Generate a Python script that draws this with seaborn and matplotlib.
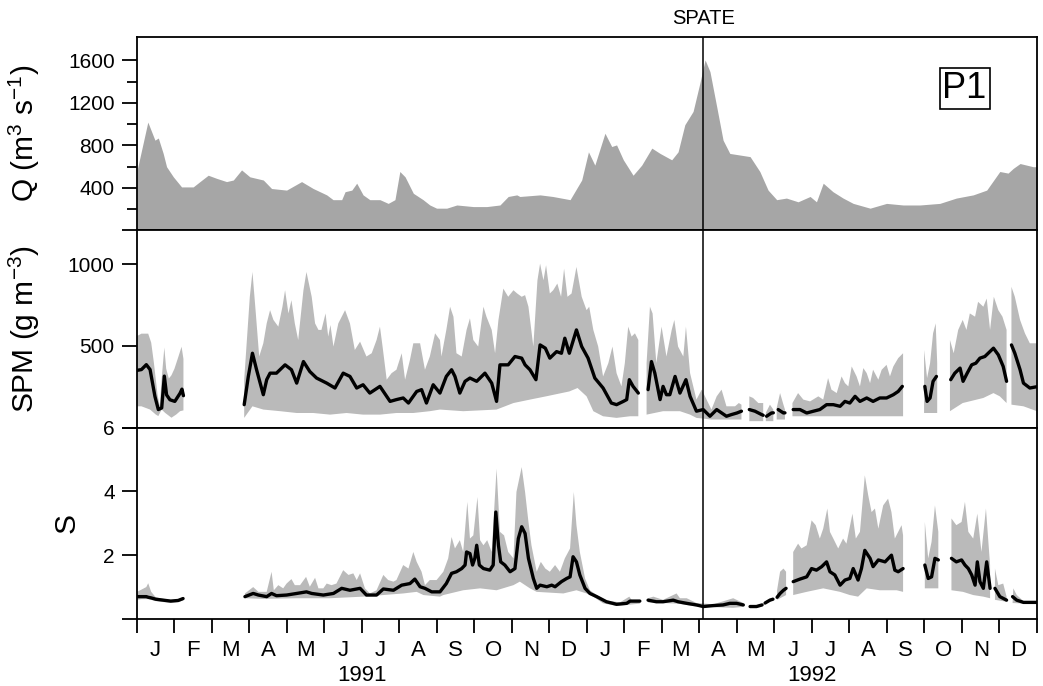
import pandas as pd
import matplotlib
matplotlib.use("Agg")
import matplotlib.pyplot as plt
import matplotlib.transforms as mtrans
import seaborn as sns

# x position in months (0 = 1 Jan 1991, 24 = 31 Dec 1992); None = gap in the record
# Discharge Q (m3 s-1)
q_pts = [(0.0, 560), (0.29, 1020), (0.48, 850), (0.57, 870), (0.70, 725), (0.79, 600), (0.97, 505),
         (1.19, 410), (1.50, 410), (1.68, 460), (1.90, 520), (2.13, 490), (2.39, 460), (2.57, 475),
         (2.79, 570), (3.01, 505), (3.37, 475), (3.59, 395), (3.99, 380), (4.39, 460), (4.70, 395),
         (5.06, 335), (5.23, 290), (5.46, 290), (5.55, 365), (5.73, 380), (5.86, 445), (6.03, 335),
         (6.21, 290), (6.48, 290), (6.70, 255), (6.88, 290), (7.01, 555), (7.15, 505), (7.37, 350),
         (7.63, 290), (7.81, 240), (7.99, 210), (8.26, 210), (8.53, 240), (8.97, 225), (9.33, 225),
         (9.68, 240), (9.90, 320), (10.13, 335), (10.21, 320), (10.75, 335), (11.09, 320), (11.55, 290),
         (11.86, 475), (12.04, 740), (12.21, 615), (12.48, 915), (12.66, 790), (12.79, 805), (12.97, 665),
         (13.23, 520), (13.46, 615), (13.73, 775), (13.95, 725), (14.26, 665), (14.43, 740), (14.61, 995),
         (14.83, 1120), (15.01, 1385), (15.15, 1605), (15.28, 1495), (15.46, 1165), (15.63, 850),
         (15.81, 725), (16.08, 710), (16.35, 695), (16.61, 555), (16.83, 380), (17.06, 290), (17.32, 305),
         (17.63, 270), (17.95, 320), (18.12, 270), (18.30, 445), (18.56, 365), (18.83, 305), (19.10, 255),
         (19.55, 210), (19.99, 255), (20.43, 240), (20.88, 240), (21.41, 255), (21.85, 305), (22.30, 335),
         (22.66, 380), (23.01, 555), (23.23, 540), (23.37, 585), (23.55, 630), (23.90, 600), (24.0, 600)]

# SPM (g m-3): upper and lower envelope and running median
spm_hi = [(0.00, 560), (0.12, 575), (0.30, 575), (0.38, 520), (0.45, 400), (0.55, 200), (0.61, 130),
          (0.66, 300), (0.73, 490), (0.78, 360), (0.85, 300), (0.92, 320), (1.00, 360), (1.10, 430),
          (1.19, 495), (1.24, 420),
          None,
          (2.86, 293), (3.01, 801), (3.08, 953), (3.17, 699), (3.26, 435), (3.37, 516), (3.46, 638),
          (3.55, 719), (3.64, 659), (3.77, 618), (3.88, 740), (3.95, 841), (4.04, 699), (4.12, 780),
          (4.21, 638), (4.30, 536), (4.44, 841), (4.52, 953), (4.66, 801), (4.75, 638), (4.84, 598),
          (4.92, 598), (5.03, 699), (5.10, 557), (5.16, 628), (5.24, 496), (5.37, 638), (5.55, 719),
          (5.68, 638), (5.81, 475), (5.95, 526), (6.12, 435), (6.26, 455), (6.39, 536), (6.48, 618),
          (6.55, 496), (6.66, 293), (6.79, 333), (6.92, 354), (7.06, 455), (7.15, 293), (7.28, 414),
          (7.37, 516), (7.55, 516), (7.68, 354), (7.81, 435), (7.95, 577), (8.08, 536), (8.12, 435),
          (8.25, 598), (8.35, 740), (8.44, 679), (8.52, 455), (8.66, 435), (8.79, 598), (8.88, 669),
          (8.97, 536), (9.10, 496), (9.24, 740), (9.32, 679), (9.46, 598), (9.55, 455), (9.64, 659),
          (9.77, 851), (9.90, 801), (10.04, 841), (10.14, 821), (10.26, 801), (10.35, 811), (10.44, 740),
          (10.57, 496), (10.68, 902), (10.75, 1004), (10.84, 902), (10.91, 994), (11.01, 821),
          (11.10, 841), (11.21, 882), (11.31, 801), (11.39, 973), (11.48, 801), (11.59, 821),
          (11.72, 984), (11.86, 801), (11.99, 719), (12.06, 740), (12.17, 598), (12.30, 496),
          (12.43, 313), (12.57, 394), (12.68, 496), (12.79, 333), (12.92, 252), (13.01, 394),
          (13.10, 618), (13.19, 557), (13.28, 577), (13.37, 536),
          None,
          (13.59, 394), (13.68, 740), (13.75, 699), (13.85, 394), (13.99, 618), (14.12, 435), (14.26, 598),
          (14.33, 659), (14.43, 496), (14.57, 435), (14.64, 618), (14.75, 333), (14.92, 171), (15.06, 232),
          (15.19, 171), (15.32, 110), (15.46, 191), (15.59, 232), (15.72, 130), (15.95, 130), (16.05, 150),
          (16.12, 140),
          None,
          (16.33, 191), (16.43, 181), (16.57, 150), (16.70, 150),
          None,
          (16.77, 90), (16.88, 140), (16.97, 110),
          None,
          (17.06, 120), (17.15, 211), (17.24, 140), (17.28, 110),
          None,
          (17.48, 150), (17.63, 211), (17.77, 171), (17.95, 160), (18.17, 191), (18.30, 171), (18.43, 303),
          (18.52, 232), (18.66, 211), (18.79, 313), (18.88, 272), (18.97, 252), (19.06, 374), (19.19, 313),
          (19.28, 252), (19.37, 364), (19.46, 333), (19.55, 272), (19.63, 354), (19.77, 293), (19.86, 354),
          (19.99, 384), (20.08, 313), (20.17, 374), (20.30, 425), (20.43, 455),
          None,
          (20.99, 475), (21.07, 303), (21.15, 394), (21.23, 577), (21.30, 638), (21.34, 394),
          None,
          (21.68, 536), (21.78, 455), (21.90, 598), (22.02, 659), (22.12, 598), (22.21, 699), (22.35, 679),
          (22.43, 770), (22.57, 740), (22.66, 790), (22.75, 598), (22.85, 801), (22.97, 719), (23.08, 679),
          (23.19, 598),
          None,
          (23.32, 862), (23.41, 801), (23.55, 659), (23.68, 577), (23.81, 516), (24.0, 516)]

spm_lo = [(0.00, 130), (0.12, 130), (0.35, 110), (0.50, 80), (0.57, 70), (0.66, 110), (0.75, 90),
          (0.92, 60), (1.05, 80), (1.15, 100), (1.24, 105),
          None,
          (2.86, 59), (3.08, 130), (3.37, 110), (3.82, 100), (4.26, 89), (4.70, 89), (5.15, 79), (5.59, 89),
          (6.03, 79), (6.48, 79), (6.92, 89), (7.37, 89), (7.81, 100), (8.08, 110), (8.70, 100), (9.59, 110),
          (10.04, 150), (10.48, 171), (10.91, 191), (11.53, 221), (11.75, 242), (11.99, 191), (12.17, 100),
          (12.43, 69), (12.79, 59), (13.15, 69), (13.37, 69),
          None,
          (13.59, 79), (14.03, 100), (14.48, 100), (14.75, 79), (14.92, 59), (15.32, 49), (15.81, 49),
          (16.12, 49),
          None,
          (16.33, 39), (16.70, 39),
          None,
          (16.77, 39), (16.97, 39),
          None,
          (17.06, 49), (17.28, 49),
          None,
          (17.48, 69), (18.50, 69), (19.50, 69), (20.43, 69),
          None,
          (20.99, 89), (21.34, 89),
          None,
          (21.68, 100), (22.02, 150), (22.57, 181), (22.84, 211), (23.01, 191), (23.19, 150),
          None,
          (23.32, 140), (23.64, 130), (24.0, 100)]

spm_med = [(0.00, 350), (0.12, 355), (0.25, 385), (0.35, 355), (0.48, 190), (0.57, 110), (0.66, 120),
           (0.73, 315), (0.79, 200), (0.88, 170), (1.01, 160), (1.15, 210), (1.20, 235), (1.24, 195),
           None,
           (2.86, 140), (2.97, 313), (3.08, 455), (3.19, 354), (3.37, 201), (3.46, 293), (3.55, 333),
           (3.72, 333), (3.95, 384), (4.12, 354), (4.26, 272), (4.44, 404), (4.61, 343), (4.79, 303),
           (5.06, 272), (5.28, 242), (5.50, 333), (5.68, 313), (5.86, 242), (6.03, 262), (6.21, 211),
           (6.48, 252), (6.75, 160), (6.92, 171), (7.10, 181), (7.24, 150), (7.46, 221), (7.59, 232),
           (7.72, 150), (7.90, 262), (8.08, 211), (8.25, 313), (8.39, 354), (8.48, 313), (8.61, 211),
           (8.75, 283), (8.88, 303), (9.06, 283), (9.28, 333), (9.46, 272), (9.59, 160), (9.68, 384),
           (9.90, 384), (10.08, 435), (10.26, 425), (10.35, 384), (10.48, 354), (10.64, 293), (10.75, 506),
           (10.89, 486), (11.01, 425), (11.19, 465), (11.32, 455), (11.41, 547), (11.53, 455), (11.72, 598),
           (11.86, 496), (12.03, 425), (12.21, 303), (12.43, 242), (12.65, 150), (12.79, 140), (12.97, 160),
           (13.06, 171), (13.13, 293), (13.23, 252), (13.37, 211),
           None,
           (13.63, 232), (13.72, 404), (13.81, 333), (13.95, 171), (14.03, 252), (14.12, 201), (14.21, 201),
           (14.35, 313), (14.48, 211), (14.64, 293), (14.75, 191), (14.92, 100), (15.10, 110), (15.28, 69),
           (15.46, 110), (15.72, 69), (15.85, 79), (16.00, 89), (16.12, 100),
           None,
           (16.33, 110), (16.48, 100), (16.66, 79), (16.70, 75),
           None,
           (16.79, 69), (16.92, 89), (16.97, 90),
           None,
           (17.10, 110), (17.24, 89), (17.28, 90),
           None,
           (17.50, 110), (17.68, 110), (17.86, 89), (18.04, 100), (18.21, 110), (18.39, 140), (18.57, 140),
           (18.75, 130), (18.88, 160), (19.01, 150), (19.15, 191), (19.28, 160), (19.46, 181), (19.63, 160),
           (19.81, 181), (19.99, 181), (20.17, 201), (20.30, 221), (20.41, 252),
           None,
           (21.01, 252), (21.07, 160), (21.15, 181), (21.23, 283), (21.32, 313),
           None,
           (21.70, 293), (21.81, 333), (21.95, 364), (22.03, 283), (22.14, 333), (22.26, 384), (22.37, 394),
           (22.48, 425), (22.61, 435), (22.70, 455), (22.84, 486), (22.97, 445), (23.10, 374), (23.19, 283),
           None,
           (23.32, 506), (23.41, 455), (23.55, 354), (23.64, 272), (23.81, 242), (24.0, 250)]

# S: upper and lower envelope and running median
s_hi = [(0.00, 0.85), (0.12, 0.92), (0.25, 1.00), (0.30, 1.12), (0.38, 0.85), (0.50, 0.68), (0.70, 0.63),
        (0.90, 0.60), (1.10, 0.62), (1.23, 0.68),
        None,
        (2.88, 0.80), (3.10, 1.00), (3.24, 0.85), (3.46, 0.85), (3.59, 1.48), (3.65, 0.90), (3.77, 1.06),
        (3.90, 0.96), (3.99, 1.11), (4.12, 1.25), (4.21, 1.06), (4.35, 1.06), (4.51, 1.32), (4.61, 1.01),
        (4.75, 1.29), (4.84, 0.96), (4.97, 0.96), (5.06, 1.11), (5.19, 1.06), (5.32, 1.11), (5.50, 1.53),
        (5.64, 1.38), (5.77, 1.43), (5.86, 1.22), (5.95, 1.43), (6.08, 0.96), (6.21, 0.80), (6.39, 0.90),
        (6.57, 1.38), (6.70, 1.22), (6.84, 1.17), (6.92, 1.22), (7.10, 1.69), (7.24, 1.58), (7.37, 2.10),
        (7.46, 1.79), (7.59, 1.48), (7.68, 1.06), (7.81, 1.22), (7.99, 1.22), (8.17, 1.48), (8.30, 1.90),
        (8.39, 2.57), (8.48, 2.21), (8.61, 2.47), (8.70, 2.10), (8.81, 3.67), (8.88, 2.52), (8.97, 2.62),
        (9.08, 3.82), (9.15, 2.47), (9.24, 2.31), (9.34, 2.47), (9.46, 2.10), (9.59, 4.71), (9.68, 2.73),
        (9.79, 2.62), (9.90, 2.10), (10.04, 1.90), (10.12, 3.98), (10.26, 4.76), (10.35, 3.98),
        (10.44, 3.04), (10.52, 2.31), (10.66, 1.48), (10.77, 1.79), (10.89, 1.58), (11.01, 1.48),
        (11.15, 1.69), (11.28, 1.48), (11.41, 1.90), (11.55, 2.21), (11.65, 3.98), (11.72, 2.94),
        (11.81, 2.10), (11.95, 1.27), (12.08, 0.90), (12.26, 0.75), (12.52, 0.58), (12.88, 0.52),
        (13.13, 0.70), (13.19, 0.60), (13.41, 0.60),
        None,
        (13.63, 0.65), (13.77, 0.70), (14.03, 0.60), (14.39, 0.80), (14.48, 0.65), (14.66, 0.65),
        (14.92, 0.50), (15.37, 0.46), (15.90, 0.65), (16.08, 0.55), (16.17, 0.50),
        None,
        (16.35, 0.43), (16.52, 0.43), (16.67, 0.48),
        None,
        (16.75, 0.55), (16.88, 0.64), (16.96, 0.67),
        None,
        (17.07, 0.90), (17.15, 1.48), (17.24, 1.58), (17.31, 1.48),
        None,
        (17.50, 2.10), (17.63, 2.36), (17.72, 2.21), (17.86, 2.31), (17.99, 3.09), (18.10, 2.94),
        (18.21, 2.52), (18.30, 2.83), (18.41, 3.46), (18.48, 2.73), (18.57, 2.52), (18.70, 2.21),
        (18.83, 2.52), (18.92, 2.36), (19.08, 3.30), (19.17, 2.52), (19.28, 2.73), (19.41, 4.50),
        (19.50, 3.88), (19.59, 3.35), (19.68, 3.46), (19.77, 2.83), (19.90, 3.56), (20.03, 3.77),
        (20.12, 3.35), (20.21, 2.52), (20.30, 2.73), (20.39, 2.94), (20.43, 2.62),
        None,
        (21.01, 3.04), (21.10, 1.90), (21.19, 2.42), (21.28, 3.56), (21.37, 2.73),
        None,
        (21.72, 3.15), (21.85, 2.94), (21.99, 3.04), (22.08, 3.67), (22.17, 2.73), (22.30, 2.52),
        (22.41, 3.30), (22.52, 2.10), (22.64, 3.46), (22.75, 1.69),
        None,
        (22.88, 1.58), (22.97, 1.06), (23.10, 1.11), (23.19, 0.70),
        None,
        (23.37, 0.96), (23.46, 0.75), (23.64, 0.56), (24.0, 0.56)]

s_lo = [(0.00, 0.60), (0.12, 0.62), (0.30, 0.62), (0.38, 0.60), (0.50, 0.56), (0.70, 0.53), (0.90, 0.51),
        (1.10, 0.53), (1.23, 0.58),
        None,
        (2.88, 0.65), (3.37, 0.63), (4.26, 0.65), (5.15, 0.65), (6.03, 0.70), (6.57, 0.75), (7.10, 0.80),
        (7.46, 0.85), (7.64, 0.75), (8.08, 0.70), (8.17, 0.75), (8.70, 0.90), (9.15, 0.96), (9.59, 0.90),
        (10.04, 1.06), (10.21, 1.17), (10.48, 0.96), (10.66, 0.85), (11.37, 0.80), (11.72, 0.90),
        (11.99, 0.80), (12.17, 0.70), (12.43, 0.49), (12.79, 0.41), (13.41, 0.48),
        None,
        (13.63, 0.52), (14.43, 0.48), (14.92, 0.39), (15.37, 0.37), (15.90, 0.35), (16.17, 0.38),
        None,
        (16.35, 0.35), (16.52, 0.35), (16.67, 0.40),
        None,
        (16.75, 0.46), (16.88, 0.55), (16.96, 0.58),
        None,
        (17.07, 0.60), (17.15, 0.65), (17.31, 0.75),
        None,
        (17.50, 0.75), (17.86, 0.85), (18.30, 0.96), (18.75, 0.85), (19.01, 0.75), (19.23, 0.70),
        (19.46, 0.96), (19.81, 0.90), (20.26, 0.90), (20.43, 0.85),
        None,
        (21.01, 0.96), (21.37, 0.96),
        None,
        (21.72, 0.90), (22.03, 0.85), (22.30, 0.75), (22.57, 0.70), (22.75, 0.65),
        None,
        (22.88, 0.60), (23.19, 0.54),
        None,
        (23.35, 0.50), (24.0, 0.47)]

s_med = [(0.00, 0.70), (0.12, 0.70), (0.25, 0.70), (0.30, 0.68), (0.38, 0.66), (0.50, 0.62), (0.70, 0.59),
         (0.90, 0.56), (1.10, 0.58), (1.23, 0.64),
         None,
         (2.88, 0.70), (3.10, 0.80), (3.24, 0.75), (3.46, 0.70), (3.59, 0.80), (3.72, 0.73), (3.99, 0.75),
         (4.26, 0.80), (4.52, 0.85), (4.66, 0.80), (4.97, 0.75), (5.24, 0.80), (5.46, 0.96), (5.68, 0.90),
         (5.95, 0.96), (6.12, 0.75), (6.39, 0.75), (6.57, 0.94), (6.84, 0.90), (7.06, 1.06), (7.28, 1.11),
         (7.41, 1.25), (7.55, 1.01), (7.68, 0.96), (7.86, 0.85), (8.08, 0.85), (8.25, 1.11), (8.39, 1.43),
         (8.52, 1.48), (8.66, 1.58), (8.75, 1.69), (8.79, 2.10), (8.88, 2.05), (8.95, 1.69), (9.01, 1.90),
         (9.06, 2.31), (9.13, 1.69), (9.24, 1.58), (9.41, 1.53), (9.50, 1.69), (9.57, 3.35), (9.64, 2.31),
         (9.70, 1.79), (9.81, 1.69), (9.95, 1.48), (10.08, 1.58), (10.17, 2.52), (10.26, 2.89),
         (10.35, 2.68), (10.44, 1.90), (10.57, 1.27), (10.66, 0.96), (10.75, 1.06), (10.93, 1.01),
         (11.06, 1.06), (11.15, 1.01), (11.32, 1.17), (11.46, 1.27), (11.55, 1.32), (11.63, 1.95),
         (11.72, 1.79), (11.81, 1.38), (11.95, 0.96), (12.08, 0.80), (12.26, 0.70), (12.52, 0.54),
         (12.79, 0.46), (13.06, 0.49), (13.15, 0.56), (13.41, 0.56),
         None,
         (13.63, 0.59), (13.85, 0.54), (14.03, 0.54), (14.30, 0.59), (14.43, 0.54), (14.66, 0.49),
         (14.92, 0.44), (15.10, 0.39), (15.37, 0.42), (15.63, 0.44), (15.81, 0.49), (15.99, 0.49),
         (16.17, 0.44),
         None,
         (16.35, 0.39), (16.52, 0.39), (16.67, 0.44),
         None,
         (16.75, 0.50), (16.88, 0.59), (16.96, 0.62),
         None,
         (17.07, 0.68), (17.15, 0.80), (17.24, 0.90), (17.31, 0.96),
         None,
         (17.50, 1.17), (17.68, 1.25), (17.86, 1.32), (17.99, 1.58), (18.12, 1.53), (18.26, 1.64),
         (18.39, 1.79), (18.48, 1.48), (18.61, 1.38), (18.75, 1.06), (18.88, 1.22), (19.01, 1.27),
         (19.10, 1.58), (19.23, 1.22), (19.32, 1.58), (19.41, 2.15), (19.55, 1.90), (19.63, 1.64),
         (19.77, 1.85), (19.95, 1.79), (20.12, 2.00), (20.21, 1.53), (20.30, 1.48), (20.43, 1.58),
         None,
         (21.01, 1.69), (21.10, 1.27), (21.19, 1.32), (21.28, 1.90), (21.37, 1.85),
         None,
         (21.72, 1.90), (21.85, 1.79), (21.99, 1.85), (22.08, 1.69), (22.17, 1.58), (22.26, 1.38),
         (22.35, 1.06), (22.41, 1.79), (22.48, 1.17), (22.57, 0.96), (22.66, 1.79), (22.75, 0.96),
         None,
         (22.88, 0.96), (23.01, 0.70), (23.19, 0.59),
         None,
         (23.35, 0.70), (23.46, 0.59), (23.64, 0.52), (24.0, 0.52)]

month_labels = list("JFMAMJJASOND") * 2
year_labels = ["1991", "1992"]
spate_month = 15.1


def split(pts):
    segs, cur = [], []
    for p in pts:
        if p is None:
            segs.append(cur)
            cur = []
        else:
            cur.append(p)
    if cur:
        segs.append(cur)
    return segs


def draw_band(ax, hi, lo, med, color):
    for h, l in zip(split(hi), split(lo)):
        xs = [p[0] for p in h] + [p[0] for p in l[::-1]]
        ys = [p[1] for p in h] + [p[1] for p in l[::-1]]
        ax.fill(xs, ys, color=color, lw=0, zorder=1)
    rows = []
    for i, seg in enumerate(split(med)):
        for m, v in seg:
            rows.append({"month": m, "value": v, "seg": i})
    df = pd.DataFrame(rows)
    sns.lineplot(data=df, x="month", y="value", units="seg", estimator=None, sort=False,
                 color="black", linewidth=2.4, ax=ax, legend=False, zorder=3)


sns.set_style("ticks")
plt.rcParams['font.family'] = ['Liberation Sans', 'DejaVu Sans']
plt.rcParams['mathtext.default'] = 'regular'
plt.rcParams['text.color'] = 'black'
plt.rcParams['axes.labelcolor'] = 'black'
plt.rcParams['xtick.color'] = 'black'
plt.rcParams['ytick.color'] = 'black'

fig = plt.figure(figsize=(10.43, 6.86), dpi=100)
ax_q = fig.add_axes([0.1313, 0.664, 0.8629, 0.282])
ax_spm = fig.add_axes([0.1313, 0.3768, 0.8629, 0.2872])
ax_s = fig.add_axes([0.1313, 0.0977, 0.8629, 0.2791])

# Q panel
q_df = pd.DataFrame(q_pts, columns=["month", "value"])
ax_q.fill_between(q_df["month"], 0, q_df["value"], color="#a6a6a6", lw=0)
ax_q.set_ylim(0, 1820)
ax_q.set_yticks([0, 400, 800, 1200, 1600])
ax_q.set_yticklabels(["", "400", "800", "1200", "1600"])
ax_q.set_yticks([200, 600, 1000, 1400], minor=True)

# SPM panel
draw_band(ax_spm, spm_hi, spm_lo, spm_med, "#bababa")
ax_spm.set_ylim(0, 1207)
ax_spm.set_yticks([0, 500, 1000])
ax_spm.set_yticklabels(["", "500", "1000"])

# S panel
draw_band(ax_s, s_hi, s_lo, s_med, "#bababa")
ax_s.set_ylim(0, 6)
ax_s.set_yticks([0, 2, 4, 6])
ax_s.set_yticklabels(["", "2", "4", "6"])

for ax in (ax_q, ax_spm, ax_s):
    ax.set_xlim(0, 24)
    ax.set_xlabel("")
    for sp in ax.spines.values():
        sp.set_visible(True)
        sp.set_linewidth(1.3)
        sp.set_color("black")
    ax.tick_params(axis="y", which="major", direction="out", length=11, width=1.3,
                   labelsize=15, pad=5, colors="black")
    ax.tick_params(axis="y", which="minor", direction="out", length=7, width=1.3, colors="black")
    ax.axvline(spate_month, color="black", lw=1.1, zorder=4)

for ax in (ax_q, ax_spm):
    ax.tick_params(axis="x", which="both", bottom=False, labelbottom=False)

ax_s.set_xticks(range(25))
ax_s.set_xticklabels([])
ax_s.set_xticks([i + 0.5 for i in range(24)], minor=True)
ax_s.set_xticklabels(month_labels, minor=True)
ax_s.tick_params(axis="x", which="major", direction="out", length=10, width=1.3, colors="black")
ax_s.tick_params(axis="x", which="minor", length=0, pad=15, labelsize=16, colors="black")

trans = mtrans.blended_transform_factory(ax_s.transData, ax_s.transAxes)
for i, yr in enumerate(year_labels):
    ax_s.text(6 + 12 * i, -0.295, yr, transform=trans, ha="center", va="center", fontsize=16)

ax_q.set_ylabel("Q (m$^3$ s$^{-1}$)", fontsize=21.5)
ax_spm.set_ylabel("SPM (g m$^{-3}$)", fontsize=21.5)
ax_s.set_ylabel("S", fontsize=21.5)
ax_q.yaxis.set_label_coords(-0.106, 0.5)
ax_spm.yaxis.set_label_coords(-0.106, 0.5)
ax_s.yaxis.set_label_coords(-0.063, 0.5)

tq = mtrans.blended_transform_factory(ax_q.transData, ax_q.transAxes)
ax_q.text(spate_month, 1.098, "SPATE", transform=tq, ha="center", va="center", fontsize=14.5)
ax_q.text(22.07, 0.734, "P1", transform=tq, ha="center", va="center", fontsize=26,
          bbox=dict(boxstyle="square,pad=0.08", fc="white", ec="black", lw=1.2))

fig.savefig("out.png", dpi=100)
